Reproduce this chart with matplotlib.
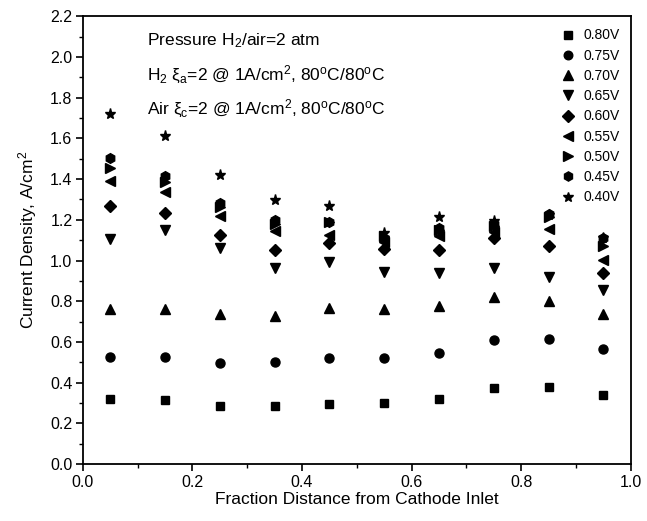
import matplotlib
matplotlib.use("Agg")
import matplotlib.pyplot as plt
from matplotlib.ticker import MultipleLocator

plt.rcParams["font.family"] = ["Liberation Sans", "DejaVu Sans"]
plt.rcParams["mathtext.fontset"] = "custom"
plt.rcParams["mathtext.rm"] = "Liberation Sans"
plt.rcParams["mathtext.it"] = "Liberation Sans:italic"

# ── Data ──────────────────────────────────────────────────────────────────────
distance = [0.05, 0.15, 0.25, 0.35, 0.45, 0.55, 0.65, 0.75, 0.85, 0.95]

v080 = [0.322, 0.316, 0.285, 0.287, 0.297, 0.300, 0.320, 0.372, 0.377, 0.341]
v075 = [0.524, 0.528, 0.495, 0.503, 0.520, 0.523, 0.547, 0.611, 0.613, 0.566]
v070 = [0.764, 0.764, 0.737, 0.728, 0.766, 0.763, 0.776, 0.821, 0.802, 0.739]
v065 = [1.105, 1.150, 1.060, 0.963, 0.992, 0.946, 0.941, 0.963, 0.921, 0.856]
v060 = [1.266, 1.233, 1.126, 1.050, 1.088, 1.055, 1.052, 1.110, 1.072, 0.941]
v055 = [1.389, 1.335, 1.220, 1.143, 1.126, 1.090, 1.121, 1.140, 1.154, 1.003]
v050 = [1.455, 1.384, 1.262, 1.180, 1.187, 1.120, 1.150, 1.170, 1.213, 1.069]
v045 = [1.505, 1.415, 1.285, 1.200, 1.190, 1.105, 1.159, 1.180, 1.228, 1.112]
v040 = [1.718, 1.611, 1.419, 1.299, 1.266, 1.135, 1.213, 1.192, 1.225, 1.112]

series = [v080, v075, v070, v065, v060, v055, v050, v045, v040]
labels = ["0.80V", "0.75V", "0.70V", "0.65V", "0.60V",
          "0.55V", "0.50V", "0.45V", "0.40V"]
markers = ["s", "o", "^", "v", "D", "<", ">", "h", "*"]
sizes = [6, 6.5, 7, 7, 6, 7, 7, 7, 8]

# ── Figure ────────────────────────────────────────────────────────────────────
fig = plt.figure(figsize=(6.47, 5.21), dpi=100)
ax = fig.add_axes([0.128, 0.109, 0.847, 0.86])

for ys, lab, mk, ms in zip(series, labels, markers, sizes):
    ax.plot(distance, ys, linestyle="none", marker=mk, color="black",
            markersize=ms, label=lab)

ax.set_xlim(0.0, 1.0)
ax.set_ylim(0.0, 2.2)
ax.xaxis.set_major_locator(MultipleLocator(0.2))
ax.xaxis.set_minor_locator(MultipleLocator(0.1))
ax.yaxis.set_major_locator(MultipleLocator(0.2))
ax.yaxis.set_minor_locator(MultipleLocator(0.1))
ax.tick_params(which="major", direction="out", length=5, width=1.2,
               labelsize=11.5, top=False, right=False, pad=2.5)
ax.tick_params(which="minor", direction="out", length=3, width=1.0,
               top=False, right=False)
for spine in ax.spines.values():
    spine.set_linewidth(1.3)

ax.set_xlabel("Fraction Distance from Cathode Inlet", fontsize=12.5, labelpad=2)
ax.set_ylabel("Current Density, A/cm$^2$", fontsize=12.5, labelpad=8)

txt = [
    "Pressure H$_2$/air=2 atm",
    "H$_2$ \u03be$_\\mathrm{a}$=2 @ 1A/cm$^2$, 80$^\\mathrm{o}$C/80$^\\mathrm{o}$C",
    "Air \u03be$_\\mathrm{c}$=2 @ 1A/cm$^2$, 80$^\\mathrm{o}$C/80$^\\mathrm{o}$C",
]
for i, t in enumerate(txt):
    ax.text(0.118, 0.945 - i * 0.076, t, transform=ax.transAxes,
            fontsize=12.5, va="center", ha="left")

ax.legend(loc="upper right", bbox_to_anchor=(0.99, 0.985), frameon=False,
          fontsize=10, handletextpad=0.6, labelspacing=0.45,
          handlelength=1.0, borderaxespad=0.0, markerscale=0.95)

fig.savefig("out.png", dpi=100)
